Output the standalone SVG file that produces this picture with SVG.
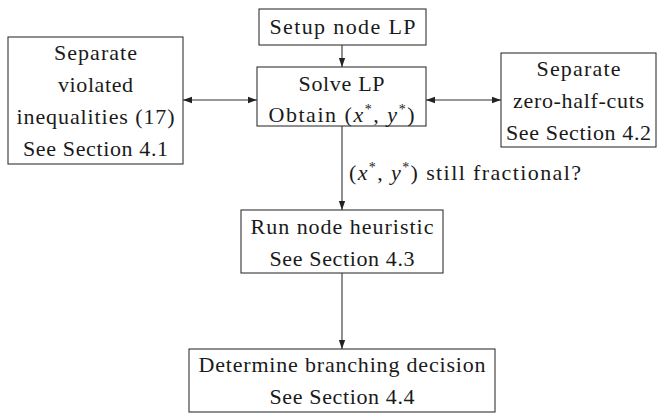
<svg xmlns="http://www.w3.org/2000/svg" width="660" height="414" viewBox="0 0 660 414">
<style>
.box{fill:#fff;stroke:#333;stroke-width:1.1}
.t{font-family:"Liberation Serif","DejaVu Serif",serif;font-size:22px;fill:#1a1a1a;text-anchor:middle;lengthAdjust:spacing}
.tl{font-family:"Liberation Serif","DejaVu Serif",serif;font-size:22px;fill:#1a1a1a}
.m{font-style:italic}
.s{font-size:14px}
.c{stroke:#333;stroke-width:1.1;fill:none}
</style>
<defs>
<marker id="ah" viewBox="0 0 10 10" refX="10" refY="5" markerWidth="9" markerHeight="9" markerUnits="userSpaceOnUse" orient="auto-start-reverse">
<path d="M0,1.5 L10,5 L0,8.5 z" fill="#222"/>
</marker>
</defs>
<rect width="660" height="414" fill="#fff"/>
<g id="connectors">
<line class="c" x1="342" y1="45" x2="342" y2="67" marker-end="url(#ah)"/>
<line class="c" x1="183" y1="100" x2="257" y2="100" marker-start="url(#ah)" marker-end="url(#ah)"/>
<line class="c" x1="426" y1="100" x2="501" y2="100" marker-start="url(#ah)" marker-end="url(#ah)"/>
<line class="c" x1="342" y1="126" x2="342" y2="210" marker-end="url(#ah)"/>
<line class="c" x1="342" y1="273" x2="342" y2="349" marker-end="url(#ah)"/>
<text class="tl" x="349" y="180" textLength="232">(<tspan class="m">x</tspan><tspan class="s" dy="-8">*</tspan><tspan dy="8">, </tspan><tspan class="m">y</tspan><tspan class="s" dy="-8">*</tspan><tspan dy="8">) still fractional?</tspan></text>
</g>
<g id="setup">
<rect class="box" x="259" y="9" width="167" height="36"/>
<text class="t" x="342.5" y="34" textLength="146">Setup node LP</text>
</g>
<g id="solve">
<rect class="box" x="257" y="67" width="169" height="59"/>
<text class="t" x="341.5" y="91" textLength="86">Solve LP</text>
<text class="t" x="341.5" y="122" textLength="146">Obtain (<tspan class="m">x</tspan><tspan class="s" dy="-8">*</tspan><tspan dy="8">, </tspan><tspan class="m">y</tspan><tspan class="s" dy="-8">*</tspan><tspan dy="8">)</tspan></text>
</g>
<g id="sep-ineq">
<rect class="box" x="8" y="37" width="175" height="127"/>
<text class="t" x="95.5" y="60" textLength="83">Separate</text>
<text class="t" x="95.5" y="92" textLength="75">violated</text>
<text class="t" x="95.5" y="124" textLength="158">inequalities (17)</text>
<text class="t" x="95.5" y="156" textLength="145">See Section 4.1</text>
</g>
<g id="sep-zero">
<rect class="box" x="501" y="53" width="155" height="94"/>
<text class="t" x="578.5" y="76" textLength="84">Separate</text>
<text class="t" x="578.5" y="108" textLength="131">zero-half-cuts</text>
<text class="t" x="578.5" y="140" textLength="145">See Section 4.2</text>
</g>
<g id="heuristic">
<rect class="box" x="241" y="210" width="202" height="63"/>
<text class="t" x="342" y="234" textLength="183">Run node heuristic</text>
<text class="t" x="342" y="266" textLength="145">See Section 4.3</text>
</g>
<g id="branching">
<rect class="box" x="189" y="349" width="306" height="63"/>
<text class="t" x="342" y="372" textLength="287">Determine branching decision</text>
<text class="t" x="342" y="404" textLength="145">See Section 4.4</text>
</g>
</svg>
